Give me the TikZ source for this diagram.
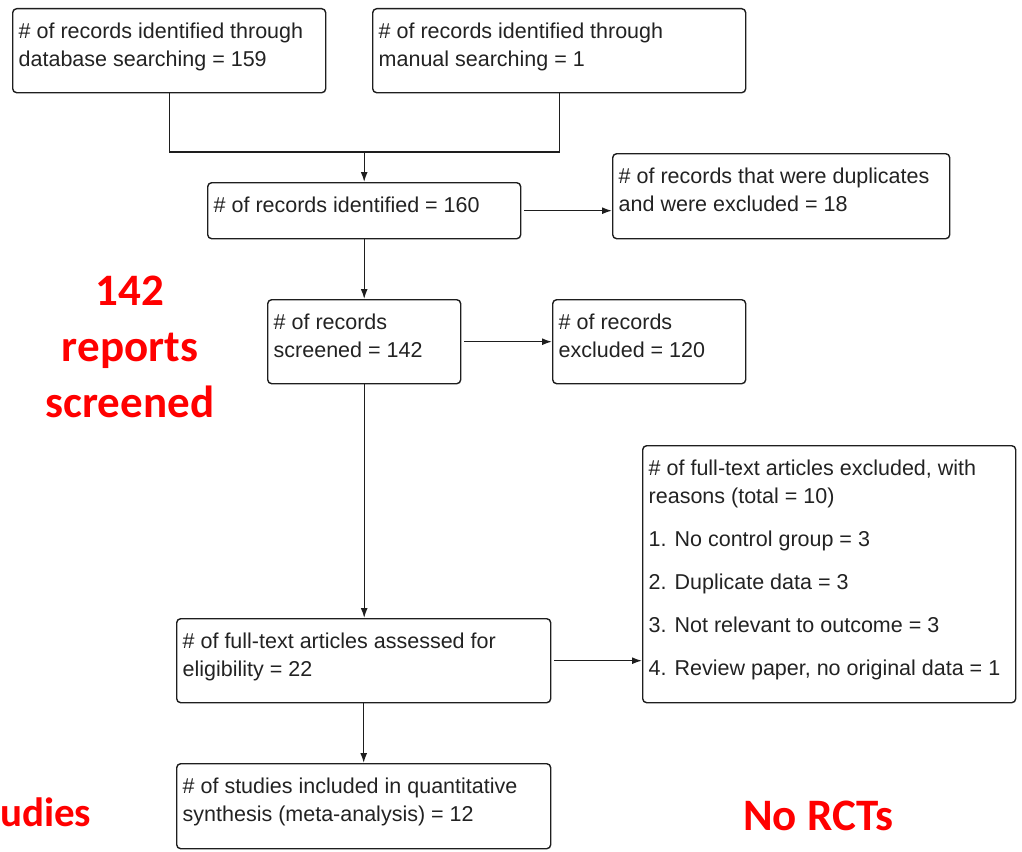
\documentclass[tikz,border=0pt]{standalone}
\usepackage{fontspec}
\usetikzlibrary{arrows.meta}

\newfontfamily\boxfont{Liberation Sans}
\newfontfamily\notefont{Carlito}

\definecolor{boxline}{HTML}{1E1E1E}
\definecolor{boxtextcol}{HTML}{222222}
\definecolor{notered}{HTML}{FF0000}

% text of a flow box: width, height, lines (top aligned)
\newcommand{\boxtext}[3]{\parbox[b][#2][t]{#1}{\raggedright\vspace*{14pt}#3}}

\begin{document}
\begin{tikzpicture}[x=1pt, y=-1pt,
            box/.style={draw=boxline, line width=1.4pt, rounded corners=4pt, anchor=north west,
                    inner xsep=6pt, inner ysep=0pt, text=boxtextcol,
                    font=\boxfont\fontsize{21.5}{28}\selectfont},
            link/.style={draw=boxline, line width=1.4pt},
            arrow/.style={link, -{Latex[length=10pt,width=7pt]}},
            note/.style={text=notered, inner sep=0pt, font=\notefont\bfseries\fontsize{45}{56}\selectfont}
        ]

        \useasboundingbox (0,0) rectangle (1022,851);

        % Identification
        \node[box] (dbsearch) at (12,8) {\boxtext{301pt}{84pt}{\# of records identified through\\database searching = 159}};
        \node[box] (mansearch) at (372,8) {\boxtext{361pt}{84pt}{\# of records identified through\\manual searching = 1}};
        \node[box] (idtotal) at (207,182) {\boxtext{301pt}{56pt}{\# of records identified = 160}};
        \node[box] (duplicates) at (612,153) {\boxtext{325pt}{85pt}{\# of records that were duplicates\\and were excluded = 18}};

        % Screening
        \node[box] (screened) at (267,299) {\boxtext{181pt}{84pt}{\# of records\\screened = 142}};
        \node[box] (recexcl) at (552,299) {\boxtext{181pt}{84pt}{\# of records\\excluded = 120}};

        % Eligibility
        \node[box] (fulltext) at (176,618) {\boxtext{362pt}{84pt}{\# of full-text articles assessed for\\eligibility = 22}};
        \node[box] (ftexcl) at (642,445) {\boxtext{361pt}{257pt}{\# of full-text articles excluded, with\\reasons (total = 10)\\[15pt]1. No control group = 3\\[15pt]2. Duplicate data = 3\\[15pt]3. Not relevant to outcome = 3\\[15pt]4. Review paper, no original data = 1}};

        % Included
        \node[box] (included) at (176,763) {\boxtext{362pt}{85pt}{\# of studies included in quantitative\\synthesis (meta-analysis) = 12}};

        % Connectors
        \coordinate (joinrow) at (0,152);
        \coordinate (join) at (idtotal.north |- joinrow);
        \draw[link] (dbsearch.south) |- (join) -| (mansearch.south);
        \draw[arrow] (join) -- (idtotal.north);

        % main column, kept straight down
        \foreach \from/\to in {idtotal/screened, screened/fulltext, fulltext/included} {
                \draw[arrow] (\from.south) -- (\from.south |- \to.north);
            }

        % side exits
        \foreach \from/\to in {idtotal/duplicates, screened/recexcl, fulltext/ftexcl} {
                \draw[arrow] ([xshift=3pt]\from.east) -- (\from.east -| \to.west);
            }

        % Red notes
        \node[note, align=center] (screennote) at (130,347) {142\\reports\\screened};
        \node[note, anchor=base west, font=\notefont\bfseries\fontsize{41}{50}\selectfont] (studynote) at (0,826) {udies};
        \node[note, anchor=base west, font=\notefont\bfseries\fontsize{45}{52}\selectfont] (rctnote) at (743,830) {No RCTs};
    \end{tikzpicture}
\end{document}
